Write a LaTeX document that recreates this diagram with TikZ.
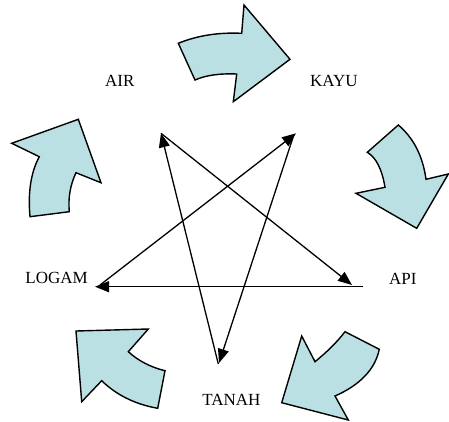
\documentclass[tikz,border=0pt]{standalone}
\usepackage{fontspec}
\setmainfont{Liberation Serif}
\usetikzlibrary{arrows.meta}
\definecolor{arrowfill}{RGB}{187,224,227}
\begin{document}
\begin{tikzpicture}[x=1pt,y=-1pt,
  blockarrow/.style={draw=black,fill=arrowfill,line width=1.4pt,line join=miter},
  starline/.style={line width=1.3pt,-{Triangle[length=14pt,width=11pt]}},
  lbl/.style={inner sep=0pt,font=\fontsize{17}{20}\selectfont}]
\useasboundingbox (0,0) rectangle (449,421);
% curved block arrows
\draw[blockarrow] (178.3,43.3) .. controls (197.2,35.6) and (218.3,32.2) .. (241.7,33.3) -- (244,5) -- (290,59.3) -- (233.3,101.7) -- (236.7,74) .. controls (219.4,73.3) and (205.5,75.3) .. (195,80) -- cycle;
\draw[blockarrow] (367.3,152.3) -- (398.3,125) .. controls (413.6,138) and (422.8,156.1) .. (426,179.3) -- (448.3,174) -- (416.7,228.3) -- (356,193.3) -- (385,187.3) .. controls (382,169.2) and (376.1,157.6) .. cycle;
\draw[blockarrow] (345,331.7) -- (379.3,349.3) .. controls (375,369.3) and (360.2,384.9) .. (335,396) -- (348.3,420) -- (281.7,402.7) -- (301.7,336) -- (315,361.7) .. controls (327.3,351.7) and (337.3,341.7) .. cycle;
\draw[blockarrow] (76,331) -- (148.3,329) -- (128.3,351.7) .. controls (138.3,360.8) and (150.6,367.2) .. (165,370.7) -- (157.7,408.3) .. controls (135,404.2) and (116.4,395) .. (101.7,380.7) -- (81.7,401.7) -- cycle;
\draw[blockarrow] (30,216.7) -- (69.3,211.7) .. controls (68,198) and (70.2,185) .. (76,172.7) -- (101,182.7) -- (78.3,119.3) -- (11.7,143.3) -- (39.3,156.7) .. controls (30.9,172.2) and (27.8,192.2) .. cycle;
% labels
\node[lbl,anchor=base west] (air) at (105,86.7) {AIR};
\node[lbl,anchor=base west] (kayu) at (310,86.7) {KAYU};
\node[lbl,anchor=base west] (api) at (389,284) {API};
\node[lbl,anchor=base east] (logam) at (88,283.3) {LOGAM};
\node[lbl,anchor=base east] (tanah) at (260.7,405) {TANAH};
% star points
\coordinate (pAIR) at (161,133.3);
\coordinate (pAPI) at (352,285);
\coordinate (pAPIs) at (363.3,286.7);
\coordinate (pLOG) at (95,286.7);
\coordinate (pLOGs) at (100,285);
\coordinate (pKAYU) at (296,133.3);
\coordinate (pKAYUs) at (293.3,136.5);
\coordinate (pTAN) at (219,363);
\coordinate (pTANs) at (218.3,364);
\draw[starline] (pAIR) -- (pAPI);
\draw[starline] (pAPIs) -- (pLOG);
\draw[starline] (pLOGs) -- (pKAYU);
\draw[starline] (pKAYUs) -- (pTAN);
\draw[starline] (pTANs) -- (pAIR);
\end{tikzpicture}
\end{document}
